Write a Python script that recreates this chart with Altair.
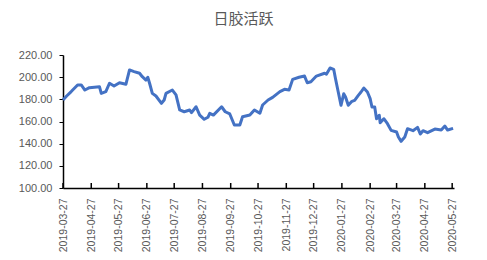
import altair as alt
import pandas as pd

dates = [
    "2019-03-27", "2019-03-31", "2019-04-05", "2019-04-12", "2019-04-16", "2019-04-20",
    "2019-04-25", "2019-05-06", "2019-05-08", "2019-05-13", "2019-05-17", "2019-05-22",
    "2019-05-28", "2019-06-04", "2019-06-08", "2019-06-13", "2019-06-19", "2019-06-22",
    "2019-06-26", "2019-06-28", "2019-06-30", "2019-07-03", "2019-07-07", "2019-07-13",
    "2019-07-16", "2019-07-18", "2019-07-25", "2019-07-29", "2019-08-02", "2019-08-07",
    "2019-08-13", "2019-08-15", "2019-08-20", "2019-08-24", "2019-08-29", "2019-09-02",
    "2019-09-04", "2019-09-08", "2019-09-17", "2019-09-21", "2019-09-26", "2019-10-01",
    "2019-10-07", "2019-10-10", "2019-10-18", "2019-10-23", "2019-10-29", "2019-11-01",
    "2019-11-07", "2019-11-12", "2019-11-20", "2019-11-25", "2019-11-30", "2019-12-04",
    "2019-12-11", "2019-12-17", "2019-12-20", "2019-12-24", "2019-12-30", "2020-01-08",
    "2020-01-10", "2020-01-14", "2020-01-18", "2020-01-20", "2020-01-23", "2020-01-26",
    "2020-01-29", "2020-01-31", "2020-02-03", "2020-02-07", "2020-02-10", "2020-02-14",
    "2020-02-17", "2020-02-20", "2020-02-24", "2020-02-27", "2020-02-29", "2020-03-03",
    "2020-03-05", "2020-03-08", "2020-03-09", "2020-03-13", "2020-03-17", "2020-03-21",
    "2020-03-27", "2020-03-29", "2020-04-01", "2020-04-05", "2020-04-08", "2020-04-14",
    "2020-04-19", "2020-04-22", "2020-04-25", "2020-04-30", "2020-05-08", "2020-05-15",
    "2020-05-19", "2020-05-22", "2020-05-28",
]
values = [
    179.4, 183.0, 187.0, 193.0, 193.0, 188.4,
    190.5, 191.4, 185.4, 187.0, 194.5, 192.0,
    195.0, 193.6, 206.5, 205.0, 203.5, 200.4,
    197.4, 199.9, 194.5, 185.4, 183.0, 176.4,
    179.4, 185.4, 188.4, 184.0, 170.4, 168.8,
    170.4, 168.0, 173.3, 165.8, 162.0, 163.8,
    167.4, 165.8, 173.3, 168.8, 166.8, 156.8,
    156.8, 164.3, 165.8, 170.4, 167.4, 174.9,
    179.4, 181.8, 187.0, 189.0, 188.4, 198.0,
    199.9, 201.0, 195.0, 195.9, 201.0, 203.5,
    202.6, 208.3, 207.1, 198.6, 186.6, 174.6,
    185.0, 182.1, 174.6, 178.2, 179.1, 183.6,
    186.6, 190.2, 186.6, 180.6, 173.1, 173.1,
    162.5, 165.6, 158.9, 162.5, 158.0, 152.0,
    150.5, 146.0, 142.1, 146.0, 153.5, 151.7,
    154.7, 148.7, 151.7, 149.9, 153.2, 152.3,
    155.9, 152.3, 153.8,
]
tick_dates = [
    "2019-03-27", "2019-04-27", "2019-05-27", "2019-06-27", "2019-07-27",
    "2019-08-27", "2019-09-27", "2019-10-27", "2019-11-27", "2019-12-27",
    "2020-01-27", "2020-02-27", "2020-03-27", "2020-04-27", "2020-05-27",
]
y_ticks = [100, 120, 140, 160, 180, 200, 220]
title_text = "日胶活跃"


def dt(s):
    y, m, d = map(int, s.split("-"))
    return alt.DateTime(year=y, month=m, date=d, utc=True)


df = pd.DataFrame({"date": dates, "value": values})
ticks_df = pd.DataFrame({"date": tick_dates})

W, H = 391, 133
gray = "#595959"

xscale = alt.Scale(type="utc", domain=[dt("2019-03-27"), dt("2020-05-29")], nice=False)
yscale = alt.Scale(domain=[100, 220], nice=False, zero=False)

xaxis = alt.Axis(
    values=[dt(s) for s in tick_dates],
    format="%Y-%m-%d",
    labelAngle=270,
    ticks=False,
    grid=False,
    domainColor="black",
    domainWidth=1.5,
    labelColor=gray,
    labelFont="Liberation Sans",
    labelFontSize=10.5,
    labelPadding=10,
    labelOverlap=False,
    labelSeparation=0,
)

line = alt.Chart(df).mark_line(color="#4472C4", strokeWidth=3, strokeJoin="round").encode(
    x=alt.X("date:T", scale=xscale, title=None, axis=xaxis),
    y=alt.Y(
        "value:Q",
        scale=yscale,
        title=None,
        axis=alt.Axis(
            values=y_ticks,
            format=".2f",
            grid=False,
            domainColor="black",
            domainWidth=1.5,
            tickColor="black",
            tickSize=4,
            labelColor=gray,
            labelFont="Liberation Sans",
            labelFontSize=11,
            labelPadding=7,
        ),
    ),
)

xticks = alt.Chart(ticks_df).mark_rule(color="black", strokeWidth=1.5).encode(
    x=alt.X("date:T", scale=xscale, title=None, axis=xaxis),
    y=alt.value(H),
    y2=alt.value(H - 5),
)

chart = (
    alt.layer(line, xticks)
    .properties(
        width=W,
        height=H,
        autosize=alt.AutoSizeParams(type="none"),
        padding={"left": 63, "top": 55, "right": 33, "bottom": 72},
        title=alt.TitleParams(
            title_text,
            font="Noto Sans CJK SC",
            fontSize=15,
            fontWeight="normal",
            color=gray,
            anchor="middle",
            dx=-15,
            offset=22,
        ),
    )
    .configure_view(stroke=None)
    .configure_axis(labelOverlap=False)
)

chart.save("out.html", embed_options={"renderer": "svg", "actions": False})
